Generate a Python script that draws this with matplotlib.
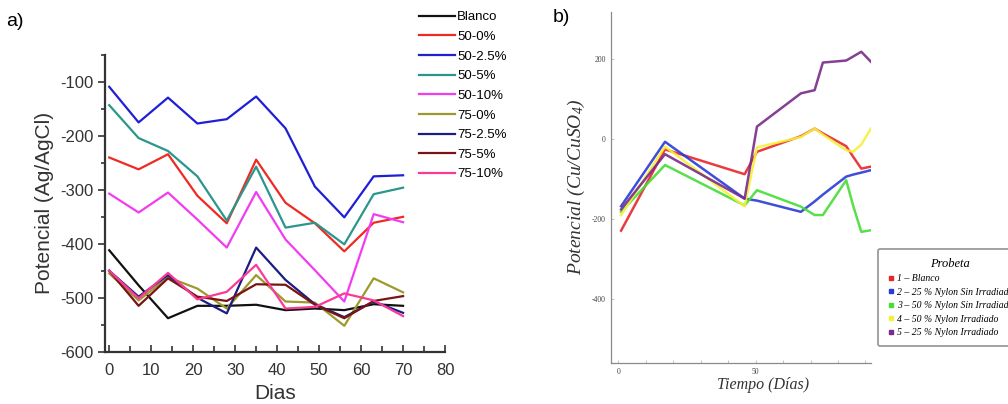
import matplotlib
matplotlib.use('Agg')
import matplotlib.pyplot as plt
from matplotlib.lines import Line2D
from matplotlib.ticker import MultipleLocator

plt.rcParams['font.family'] = ['Liberation Sans', 'DejaVu Sans']
plt.rcParams['axes.unicode_minus'] = False
plt.rcParams['mathtext.fontset'] = 'custom'
plt.rcParams['mathtext.rm'] = 'Liberation Serif:italic'
plt.rcParams['mathtext.it'] = 'Liberation Serif:italic'

# Panel a) - potencial vs Ag/AgCl
dias_a = [0, 7, 14, 21, 28, 35, 42, 49, 56, 63, 70]
blanco = [-412, -477, -538, -515, -515, -513, -523, -520, -523, -512, -515]
s50_0 = [-240, -262, -234, -311, -362, -244, -324, -362, -414, -361, -350]
s50_25 = [-109, -175, -129, -177, -169, -127, -186, -294, -351, -275, -273]
s50_5 = [-143, -204, -228, -275, -357, -257, -370, -361, -401, -308, -296]
s50_10 = [-307, -342, -305, -355, -407, -304, -392, -449, -507, -345, -360]
s75_0 = [-455, -505, -462, -483, -520, -458, -507, -509, -552, -464, -490]
s75_25 = [-450, -498, -458, -500, -529, -407, -467, -512, -536, -507, -528]
s75_5 = [-450, -515, -464, -498, -506, -475, -476, -513, -538, -506, -497]
s75_10 = [-450, -501, -454, -503, -489, -439, -520, -517, -492, -505, -534]

series_a = [
    ('Blanco', blanco, '#111111'),
    ('50-0%', s50_0, '#ee2a22'),
    ('50-2.5%', s50_25, '#1f1fd6'),
    ('50-5%', s50_5, '#2a968c'),
    ('50-10%', s50_10, '#f23cf0'),
    ('75-0%', s75_0, '#9c9a2c'),
    ('75-2.5%', s75_25, '#1c1c82'),
    ('75-5%', s75_5, '#7a1414'),
    ('75-10%', s75_10, '#fb3a98'),
]

# Panel b) - potencial vs Cu/CuSO4
dias_b = [1, 17, 46, 50.5, 66.5, 71.5, 74.5, 83, 85.5, 88.5, 92]
p1_blanco = [-228, -25, -87, -31, 8, 27, 15, -17, -43, -73, -68]
p2_25_sin = [-167, -6, -148, -153, -181, -155, -138, -93, -88, -83, -77]
p3_50_sin = [-181, -64, -165, -127, -168, -189, -189, -102, -165, -231, -227]
p4_50_irr = [-189, -18, -167, -20, 6, 27, 12, -27, -31, -13, 27]
p5_25_irr = [-175, -37, -148, 32, 115, 123, 192, 197, 207, 219, 194]

series_b = [
    ('1 – Blanco', p1_blanco, '#e8262a'),
    ('2 – 25 % Nylon Sin Irradiado', p2_25_sin, '#2a3ad8'),
    ('3 – 50 % Nylon Sin Irradiado', p3_50_sin, '#48dc38'),
    ('4 – 50 % Nylon Irradiado', p4_50_irr, '#f4f03a'),
    ('5 – 25 % Nylon Irradiado', p5_25_irr, '#7a2a88'),
]

fig = plt.figure(figsize=(10.08, 4.04), dpi=100)

# ---- panel a
ax1 = fig.add_axes([0.1042, 0.1295, 0.3373, 0.7344])
for nombre, valores, color in series_a:
    ax1.plot(dias_a, valores, color=color, linewidth=1.6, label=nombre)

ax1.set_xlim(-1, 80)
ax1.set_ylim(-600, -50)
ax1.xaxis.set_major_locator(MultipleLocator(10))
ax1.xaxis.set_minor_locator(MultipleLocator(5))
ax1.yaxis.set_major_locator(MultipleLocator(100))
ax1.yaxis.set_minor_locator(MultipleLocator(50))
ax1.spines['top'].set_visible(False)
ax1.spines['right'].set_visible(False)
for lado in ['left', 'bottom']:
    ax1.spines[lado].set_linewidth(1.6)
    ax1.spines[lado].set_color('#333333')
ax1.tick_params(axis='x', which='both', direction='in', labelsize=12, colors='#333333', pad=8)
ax1.tick_params(axis='x', which='major', length=5, width=1.2)
ax1.tick_params(axis='x', which='minor', length=4, width=1.2)
ax1.tick_params(axis='y', which='both', direction='out', labelsize=12, colors='#333333')
ax1.tick_params(axis='y', which='major', length=5, width=1.2)
ax1.tick_params(axis='y', which='minor', length=3, width=1.2)
ax1.set_xlabel('Dias', fontsize=15, color='#333333')
ax1.set_ylabel('Potencial (Ag/AgCl)', fontsize=15, color='#333333')
ax1.xaxis.set_label_coords(0.5, -0.11)
ax1.yaxis.set_label_coords(-0.15, 0.5)

fig.legend(handles=ax1.get_lines(), loc='upper left', bbox_to_anchor=(0.407, 0.995),
           frameon=False, fontsize=9.5, handlelength=2.7, handletextpad=0.15,
           labelspacing=0.56, borderaxespad=0.3)

fig.text(0.006, 0.935, 'a)', fontsize=14)
fig.text(0.548, 0.945, 'b)', fontsize=14)

# ---- panel b
ax2 = fig.add_axes([0.6058, 0.1022, 0.2582, 0.8688])
for nombre, valores, color in series_b:
    ax2.plot(dias_b, valores, color=color, linewidth=1.8, alpha=0.9)

ax2.set_xlim(-2.8, 92)
ax2.set_ylim(-558, 319)
ax2.set_xticks([0, 50])
ax2.xaxis.set_minor_locator(MultipleLocator(10))
ax2.set_yticks([-400, -200, 0, 200])
ax2.spines['top'].set_visible(False)
ax2.spines['right'].set_visible(False)
for lado in ['left', 'bottom']:
    ax2.spines[lado].set_linewidth(0.9)
    ax2.spines[lado].set_color('#8a8a8a')
ax2.tick_params(axis='both', which='both', direction='in', length=2, width=0.6,
                colors='#bbbbbb', labelcolor='#444444', labelsize=5.5)
for lbl in ax2.get_xticklabels() + ax2.get_yticklabels():
    lbl.set_family('Liberation Serif')
ax2.set_xlabel('Tiempo (Días)', fontsize=11.5, family='Liberation Serif', style='italic',
               color='#333333')
ax2.set_ylabel('Potencial (Cu/CuSO$_4$)', fontsize=14, family='Liberation Serif',
               style='italic', color='#333333')
ax2.xaxis.set_label_coords(0.585, -0.042)
ax2.yaxis.set_label_coords(-0.09, 0.5)

handles_b = [Line2D([], [], marker='s', linestyle='none', color=c, markersize=3.5)
             for _, _, c in series_b]
leg = fig.legend(handles_b, [n for n, _, _ in series_b], loc='upper left',
                 bbox_to_anchor=(0.866, 0.395), title='Probeta',
                 prop={'family': 'Liberation Serif', 'style': 'italic', 'size': 7},
                 handletextpad=0.1, handlelength=1.0, labelspacing=0.45,
                 frameon=True, fancybox=True, borderpad=0.9, alignment='center')
leg.get_title().set_fontfamily('Liberation Serif')
leg.get_title().set_fontstyle('italic')
leg.get_title().set_fontsize(9)
leg.get_frame().set_edgecolor('#777777')
leg.get_frame().set_linewidth(1.2)

fig.savefig('out.png', dpi=100)
